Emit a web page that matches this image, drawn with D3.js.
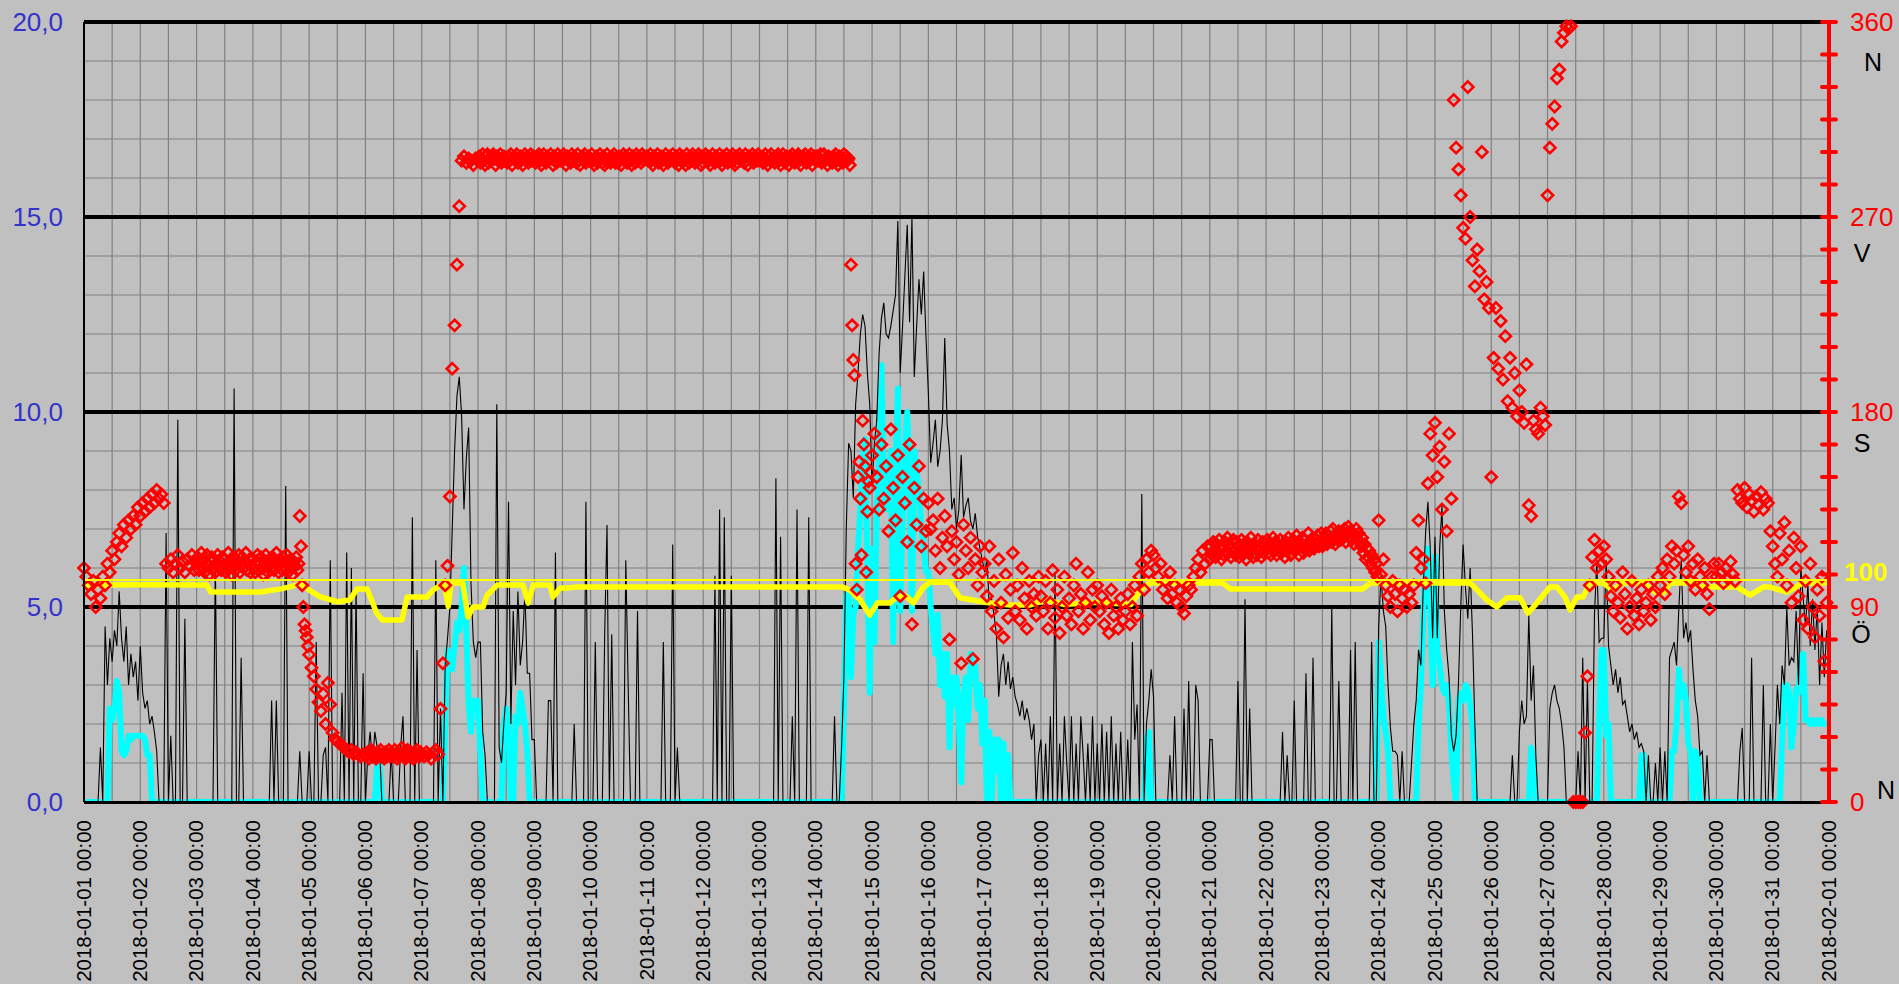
<!DOCTYPE html>
<html>
<head>
<meta charset="utf-8">
<script src="https://cdn.jsdelivr.net/npm/d3@7"></script>
<style>
body { margin: 0; background: #c0c0c0; }
svg { display: block; font-family: "Liberation Sans", Arial, sans-serif; }
</style>
</head>
<body>
<script>
// one string per day (2018-01-01 .. 2018-01-31), values evenly spaced over the day
// (24 values = hourly, 48 = half-hourly)

// gust, m/s (thin black)
const gustByDay = [
  "0 0 0 0 0 0 0 1.4 0 4.5 3.0 4.2 3.6 4.4 4.0 5.4 4.2 3.6 4.5 3.0 3.8 3.2 3.6 2.6",
  "4.0 2.8 2.4 2.6 2.0 2.2 1.8 1.3 0 0 0 6.9 0 1.7 0 0 9.8 0 0 4.7 0 0 0 0",
  "0 0 0 0 0 0 0 0 6.2 0 0 0 0 0 0 0 10.6 0 0 3.7 0 0 0 0",
  "0 0 0 0 0 0 0 0 2.6 0 2.6 0 0 0 8.1 0 0 0 0 0 1.3 0 0 0",
  "1.3 0 0 4.1 0 0 1.2 1.4 0 6.2 0 0 0 0 2.8 0 6.4 0 6.0 0 5.5 0 0 3.3",
  "0 1.2 1.8 1.0 1.8 1.4 1.4 0 0 0 0 1.3 0 0 0 1.4 2.2 0 0 0 7.3 0 3.9 0",
  "0 0 0 0 0 0 6.2 0 2.4 0 3.5 4.2 5.0 7.0 9.0 10.4 10.9 9.9 7.5 8.8 9.6 5.6 4.1 3.7",
  "4.1 4.1 1.8 1.2 0 0 0 0 10.2 1.4 1.0 2.0 2.8 7.7 2.0 4.9 3.0 5.4 3.5 4.1 5.4 3.3 3.3 1.6",
  "1.6 0 0 0 0 0 2.6 2.6 0 6.4 0 0 0 0 0 0 0 2.0 0 0 0 0 7.7 0",
  "0 0 4.1 0 0 0 4.3 7.1 0 4.3 0 0 0 0 0 6.2 3.0 0 0 0 4.9 0 0 0",
  "0 0 0 0 0 0 0 4.1 0 0 0 6.6 0 1.4 0 0 0 0 0 0 0 0 0 0",
  "0 0 0 0 0 5.8 0 7.5 0 7.3 0 0 5.8 0 0 0 0 0 0 0 0 0 0 0",
  "0 0 0 0 0 0 0 8.3 0 6.8 0 0 0 0 2.2 0 7.5 0 0 0 0 7.3 0 0",
  "0 0 0 0 0 0 0 0 2.2 0 0 1.4 3.2 7.0 9.2 9.0 7.8 10.2 11.0 12.0 12.5 12.2 11.0 10.2",
  "8.1 9.2 9.8 11.5 12.4 12.8 12.0 11.9 12.2 12.6 13.0 14.9 11.0 12.2 13.5 14.8 12.3 15.0 10.9 12.2 13.4 12.5 13.6 11.9",
  "10.5 8.7 9.2 9.8 8.6 9.0 9.8 11.9 9.7 9.0 7.5 7.8 7.0 7.5 8.9 7.3 7.6 7.8 7.2 7.0 7.4 6.8 6.5 6.2",
  "5.9 6.2 5.0 5.2 4.8 4.3 2.7 3.5 3.8 3.0 3.6 2.9 3.2 2.7 2.5 2.2 2.6 2.1 2.4 2.1 1.6 2.0 0 1.2",
  "1.6 0 1.5 0 2.2 0 5.9 0 1.5 0 2.2 1.0 0 2.2 0 1.5 0 2.2 1.2 0 1.5 0 2.2 0",
  "1.5 0 2.0 0 1.8 0 2.2 0 1.5 0 1.8 0 0 1.6 0 4.1 1.6 2.5 0 7.9 0 2.0 2.6 3.4",
  "2.7 0 0 0 0 0 0 1.2 0 2.2 0 0 0 2.4 0 3.1 0 0 3.0 2.6 0 0 0 0",
  "1.6 1.6 0 0 0 0 0 0 0 0 0 0 3.1 0 0 5.2 0 2.4 0 0 0 0 0 0",
  "0 0 0 0 0 0 0 1.8 0 1.2 0 0 2.6 0 0 0 0 3.3 0 0 3.7 0 0 0",
  "0 0 0 0 5.0 0 0 3.1 0 0 0 0 3.9 0 4.1 0 0 0 0 0 0 4.1 0 0",
  "4.5 5.8 4.9 4.5 3.0 1.9 1.3 1.3 1.2 0 1.3 0 0 0 1.0 2.0 2.6 3.9 3.5 5.5 6.9 7.7 6.5 4.2",
  "6.8 4.2 6.5 7.6 4.9 3.9 3.2 1.7 1.3 1.7 3.0 5.0 6.6 5.5 4.7 6.0 4.3 2.0 0 0 0 0 0 0",
  "0 0 0 0 0 0 0 0 0 1.2 0 0 1.8 2.6 2.0 2.2 4.8 2.6 3.5 1.2 0 0 0 0",
  "0 2.4 2.8 3.0 2.6 2.4 2.0 1.4 0 0 0 0 0 1.3 0 3.7 0 3.1 0 0 4.8 6.2 4.1 4.2",
  "4.2 6.2 4.0 3.5 3.0 3.4 2.8 3.2 2.5 2.6 2.2 1.8 2.0 1.6 1.8 1.4 1.5 1.3 0 1.2 0 0 1.0 0",
  "1.4 0 1.3 0 3.7 3.9 4.1 3.5 5.0 6.2 4.2 4.6 4.1 4.4 3.4 2.6 2.2 1.2 1.3 0 1.2 0 0 0",
  "0 0 0 0 0 0 0 0 0 0 1.3 1.9 0 0 0 3.7 0 0 0 0 3.0 0 0 2.0",
  "0 1.4 3.0 2.0 3.5 3.0 5.0 3.5 3.7 3.6 4.9 3.0 6.0 5.2 4.5 5.6 4.0 5.2 3.9 5.0 3.0 4.6 3.2 4.4"
]

// mean wind, m/s (thick cyan)
const meanByDay = [
  "0 0 0 0 0 0 0 0 0 0 0 2.4 2.1 2.4 3.1 2.8 1.3 1.2 1.3 1.7 1.6 1.7 1.7 1.7",
  "1.7 1.7 1.6 1.2 1.2 0 0 0 0 0 0 0 0 0 0 0 0 0 0 0 0 0 0 0",
  "0 0 0 0 0 0 0 0 0 0 0 0 0 0 0 0 0 0 0 0 0 0 0 0",
  "0 0 0 0 0 0 0 0 0 0 0 0 0 0 0 0 0 0 0 0 0 0 0 0",
  "0 0 0 0 0 0 0 0 0 0 0 0 0 0 0 0 0 0 0 0 0 0 0 0",
  "0 0 0 0 0 1.0 1.0 0 0 0 0 0 0 0 0 0 0 0 0 0 0 0 0 0",
  "0 0 0 0 0 0 0 0 0 0 2.0 3.9 3.6 3.4 4.0 4.6 4.4 5.0 6.0 4.4 2.5 1.8 2.6 2.4",
  "2.6 1.3 0 0 0 0 0 0 0 0 0 2.0 2.4 2.0 0 0 2.2 2.0 2.8 2.4 2.0 1.3 0 0",
  "0 0 0 0 0 0 0 0 0 0 0 0 0 0 0 0 0 0 0 0 0 0 0 0",
  "0 0 0 0 0 0 0 0 0 0 0 0 0 0 0 0 0 0 0 0 0 0 0 0",
  "0 0 0 0 0 0 0 0 0 0 0 0 0 0 0 0 0 0 0 0 0 0 0 0",
  "0 0 0 0 0 0 0 0 0 0 0 0 0 0 0 0 0 0 0 0 0 0 0 0",
  "0 0 0 0 0 0 0 0 0 0 0 0 0 0 0 0 0 0 0 0 0 0 0 0",
  "0 0 0 0 0 0 0 0 0 0 0 0 2.5 5.3 5.4 3.2 4.8 5.0 6.5 7.5 8.8 9.3 6.0 2.8",
  "6.5 4.1 7.5 9.0 11.2 8.0 7.5 8.4 9.0 4.1 8.5 10.6 4.9 7.2 9.0 10.0 8.0 4.9 9.0 8.5 8.0 7.0 6.5 5.9",
  "5.9 5.0 4.4 3.8 4.8 3.0 3.8 2.7 3.8 1.4 3.2 2.5 3.2 2.1 0.5 2.8 3.2 2.1 3.8 3.2 3.5 2.4 3.0 1.5",
  "2.6 0 1.8 0 1.6 0.8 1.6 0 1.5 0 1.2 0 0 0 0 0 0 0 0 0 0 0 0 0",
  "0 0 0 0 0 0 0 0 0 0 0 0 0 0 0 0 0 0 0 0 0 0 0 0",
  "0 0 0 0 0 0 0 0 0 0 0 0 0 0 0 0 0 0 0 0 0 1.6 1.8 0",
  "0 0 0 0 0 0 0 0 0 0 0 0 0 0 0 0 0 0 0 0 0 0 0 0",
  "0 0 0 0 0 0 0 0 0 0 0 0 0 0 0 0 0 0 0 0 0 0 0 0",
  "0 0 0 0 0 0 0 0 0 0 0 0 0 0 0 0 0 0 0 0 0 0 0 0",
  "0 0 0 0 0 0 0 0 0 0 0 0 0 0 0 0 0 0 0 0 0 0 0 0",
  "4.1 3.2 2.2 1.8 1.3 0 0 0 0 0 0 0 0 0 0 0 0 2.0 3.0 4.8 6.0 6.5 5.0 3.0",
  "6.3 3.9 3.5 3.0 2.8 3.0 2.5 1.3 0.5 0 2.6 2.8 2.6 3.0 2.9 2.5 2.0 0 0 0 0 0 0 0",
  "0 0 0 0 0 0 0 0 0 0 0 0 0 0 0 0 0 1.4 1.0 0 0 0 0 0",
  "0 0 0 0 0 0 0 0 0 0 0 0 0 0 0 0 0 0 0 0 0 0 2.0 3.9",
  "3.9 1.7 2.0 0 0 0 0 0 0 0 0 0 0 0 0 0 1.2 1.2 0 0 0 0 0 0",
  "0 0 0 0 0 1.3 1.3 2.0 3.4 2.7 3.0 2.6 1.5 1.3 0 1.3 1.2 0 0 0 0 0 0 0",
  "0 0 0 0 0 0 0 0 0 0 0 0 0 0 0 0 0 0 0 0 0 0 0 0",
  "0 0 0 0 1.5 3.0 3.0 2.8 1.4 1.9 2.9 2.8 3.7 3.8 2.1 2.1 2.0 2.1 2.0 2.1 2.0 2.1 2.0 2.0"
]

// wind direction, degrees (red diamonds)
const dirByDay = [
  "108 104 100 96 102 90 98 94 104 100 110 106 116 112 120 124 118 128 122 130 126 132 128 136",
  "132 138 134 140 136 142 138 144 140 142 138 110 108 112 106 110 114 108 111 106 112 109 114 107",
  "110 113 107 111 115 108 112 106 110 114 109 105 111 113 108 112 106 110 114 108 111 107 113 109 112 106 110 115 108 111 105 113 109 107 112 110 114 106 109 113 108 111 115 107 110 112 106 109",
  "112 108 106 111 114 107 110 113 108 105 111 114 109 106 112 110 108 113 107 110 115 109 106 112 110 107 113 108 111 114 106 110 112 108 105 111 109 113 107 110 132 118 100 90 82 79 76 72",
  "68 62 58 52 46 42 50 36 55 45 32 29 28 27 26 25 24 23 24 22 23 22 21 22",
  "22 21 23 20 22 24 21 23 22 20 21 23 22 24 21 22 20 23 21 22 24 21 23 22 21 24 22 20 23 21 22 25 23 21 20 22 24 22 21 23 22 20 23 21 24 22 21 23",
  "22 21 23 22 20 23 24 22 43 64 100 109 141 200 220 248 275 296 298 295 297 296 294 297",
  "296 298 295 297 299 296 294 298 299 295 297 296 298 299 297 294 298 296 297 299 295 297 298 296 297 295 298 296 299 294 297 298 296 299 295 297 298 296 294 297 299 296 298 295 297 299 296 298",
  "297 295 298 296 299 296 294 297 299 296 295 298 296 297 299 297 294 298 296 295 299 297 296 298 296 299 297 294 298 296 297 295 299 296 298 297 295 299 296 294 297 298 296 299 295 297 298 296",
  "296 299 296 294 297 298 295 296 299 297 295 298 294 296 299 296 297 295 298 296 299 295 297 295 298 296 294 297 299 296 298 295 297 299 296 294 298 297 295 299 296 298 297 295 299 296 298 297",
  "298 296 297 299 296 294 298 296 297 299 295 296 298 296 294 297 299 296 295 298 296 297 299 296 295 298 297 294 299 296 298 297 296 294 299 297 295 298 296 299 297 295 298 296 299 297 294 298",
  "295 297 299 296 298 296 294 297 299 296 295 298 297 296 299 296 294 298 296 297 299 295 296 298 297 299 296 294 298 295 297 299 296 298 297 295 299 296 294 298 297 296 299 295 298 297 296 299",
  "296 298 296 295 297 299 296 294 298 296 299 296 297 295 298 296 299 296 294 297 299 296 295 298 297 294 298 296 299 297 295 296 298 299 296 294 297 298 296 299 295 297 298 296 299 294 297 298",
  "296 298 296 297 299 295 296 299 296 297 294 298 296 297 295 298 297 299 296 294 298 296 297 295 299 296 298 296 297 294 248 220 204 197 110 98 150 157 140 114 176 165 155 106 134 148 145 152",
  "160 170 150 135 165 140 155 125 172 145 130 160 95 150 138 120 165 82 145 128 155 118 140 125",
  "138 126 130 116 140 108 122 132 118 75 125 112 120 105 64 128 116 108 122 66 112 100 118 106",
  "110 95 118 88 102 80 112 92 76 105 85 98 115 88 100 84 108 94 80 102 90 96 86 104",
  "95 88 102 80 92 107 85 98 78 90 104 86 94 82 100 110 88 96 80 92 106 84 98 90",
  "100 88 95 82 92 78 98 86 90 80 94 84 88 96 82 90 100 86 104 110 98 112 106 116",
  "114 108 104 110 98 102 94 106 96 100 92 98 90 87 95 100 98 104 108 112 106 116 110 118",
  "112 118 114 120 116 113 119 115 121 117 112 118 114 120 116 122 115 119 113 117 121 116 114 120 118 113 116 121 114 119 117 112 120 115 118 122 116 113 119 117 114 121 116 118 113 120 115 119",
  "117 121 115 119 114 118 122 116 120 114 118 116 121 115 119 117 113 120 116 122 118 114 119 121 116 119 123 117 114 120 118 122 115 121 117 119 124 116 120 118 122 117 121 119 123 118 120 124",
  "118 122 120 124 119 123 121 125 120 126 122 119 124 121 125 123 121 125 122 126 120 124 127 122 125 121 124 119 123 126 121 124 120 118 122 115 119 112 117 113 116 110 114 108 112 106 110 104",
  "130 105 112 100 95 90 102 96 88 100 94 98 90 96 92 100 115 130 108 112 101 147 170 160",
  "175 150 164 135 157 125 170 140 324 302 292 280 265 260 330 270 250 238 255 245 300 232 240 228",
  "150 205 228 200 222 195 215 185 205 182 198 178 190 180 175 202 137 132 176 172 170 182 178 174",
  "280 302 313 321 334 338 351 355 358 357 358 0 0 0 0 0 32 58 100 113 121 108 116 110",
  "118 112 104 95 88 100 92 85 106 96 80 90 102 86 94 82 98 88 92 100 84 96 90 104",
  "100 108 96 112 104 118 110 116 141 138 114 106 118 102 110 98 112 104 100 108 96 89 104 110",
  "104 110 106 101 108 103 111 105 102 144 140 138 145 136 142 139 134 141 137 143 135 140 138 125",
  "118 110 104 124 112 129 100 116 92 122 108 95 118 84 102 80 110 90 76 98 86 104 65 92"
]

// relative humidity, % (thick yellow), read at these day offsets
const humDay = [0, 1.0, 2.18, 2.25, 3.13, 3.5, 3.84, 4.19, 4.5, 4.72, 4.85, 5.03, 5.2, 5.3, 5.65, 5.74, 6.09, 6.2, 6.4, 6.47, 6.52, 6.73, 6.82, 6.91, 7.09, 7.16, 7.34, 7.8, 7.89, 7.98, 8.28, 8.33, 8.46, 8.58, 8.76, 13.48, 13.6, 13.79, 13.96, 14.09, 14.32, 14.44, 14.62, 14.73, 14.9, 15.03, 15.38, 15.56, 16.0, 16.45, 16.8, 17.1, 17.4, 18.0, 18.6, 18.8, 18.94, 20.23, 20.36, 22.72, 22.85, 24.62, 24.7, 24.92, 25.1, 25.28, 25.51, 25.65, 25.81, 26.04, 26.17, 26.31, 26.4, 26.52, 26.63, 26.75, 26.99, 27.16, 27.34, 27.7, 27.94, 28.05, 28.18, 28.53, 28.76, 29.37, 29.6, 29.83, 29.95, 30.25, 30.53, 31]
const humPct = [97.7, 97.9, 97.7, 94.6, 94.6, 96, 98, 92.5, 90.2, 91, 96, 96, 85, 82, 82, 92.3, 92.3, 95.5, 98.6, 88, 98.6, 98.6, 83.3, 87.8, 87.8, 93.2, 97.7, 97.7, 89.6, 97.7, 97.7, 92.3, 96.4, 96.4, 96.8, 96.8, 95.5, 91, 84.2, 89.6, 89.6, 92.5, 92.5, 89.6, 96.4, 99, 99, 92, 90, 88.7, 88.7, 91, 89, 90, 89, 96.4, 98.6, 98.6, 96, 96, 98.6, 98.6, 96.8, 91, 87.8, 92, 92, 85.1, 89.6, 96.8, 96.8, 92.3, 86.5, 92.3, 92.3, 98.6, 98.6, 95.5, 98.6, 98.6, 94.1, 94.1, 98.6, 98.6, 96.8, 96.8, 93.2, 96.8, 96.8, 94.6, 98.6, 98.6]

const speedTicks = [0, 5, 10, 15, 20]
const dirTicks = [0, 90, 180, 270, 360]
const compass = ["N", "Ö", "S", "V", "N"]   // for dirTicks
const humRef = 100

// ---- setup

const start = Date.UTC(2018, 0, 1)
const end = Date.UTC(2018, 1, 1)
const dayMs = 864e5

function perDay (days) {
    return days.flatMap((s, d) => {
        const vals = s.trim().split(/\s+/)
        return vals.map((v, i) => ({ t: new Date(start + (d + i / vals.length) * dayMs), v: +v }))
    })
}

const gust = perDay(gustByDay)
const mean = perDay(meanByDay)
const dir = perDay(dirByDay)
const hum = humDay.map((d, i) => ({ t: new Date(start + d * dayMs), v: humPct[i] }))

const width = 1899
const height = 984
const plotL = 84, plotR = 1829, plotT = 22, plotB = 802

const x = d3.scaleUtc().domain([start, end]).range([plotL, plotR])
const ySpeed = d3.scaleLinear().domain([0, 20]).range([plotB, plotT])
const yDir = d3.scaleLinear().domain([0, 360]).range([plotB, plotT])
const yHum = d3.scaleLinear().domain([0, 100]).range([plotB, 580])

const font = "'Liberation Sans', Arial, sans-serif"

const svg = d3.select("body").append("svg")
    .attr("width", width)
    .attr("height", height)

svg.append("rect").attr("width", width).attr("height", height).attr("fill", "#c0c0c0")

svg.append("defs").append("clipPath").attr("id", "plot")
    .append("rect").attr("x", plotL).attr("y", 0).attr("width", plotR - plotL).attr("height", plotB - 1)

// grid

svg.append("g")
    .selectAll("line")
    .data(d3.utcHour.every(12).range(new Date(start + 1), new Date(end)))
    .join("line")
    .attr("x1", d => x(d)).attr("x2", d => x(d))
    .attr("y1", plotT).attr("y2", plotB)
    .attr("stroke", "#808080").attr("stroke-width", 1.2)

svg.append("g")
    .selectAll("line")
    .data(ySpeed.ticks(20).filter(v => v % 5 !== 0))
    .join("line")
    .attr("x1", plotL).attr("x2", plotR)
    .attr("y1", d => ySpeed(d)).attr("y2", d => ySpeed(d))
    .attr("stroke", "#808080").attr("stroke-width", 1.2)

svg.append("g")
    .selectAll("line")
    .data(speedTicks.filter(v => v > 0))
    .join("line")
    .attr("x1", plotL).attr("x2", plotR)
    .attr("y1", d => ySpeed(d)).attr("y2", d => ySpeed(d))
    .attr("stroke", "#000").attr("stroke-width", 4)

// series

const series = svg.append("g").attr("clip-path", "url(#plot)")

series.append("path")
    .datum(mean)
    .attr("d", d3.line().x(d => x(d.t)).y(d => ySpeed(d.v)))
    .attr("fill", "none").attr("stroke", "#00ffff").attr("stroke-width", 6).attr("stroke-linejoin", "round")

series.append("path")
    .datum(gust)
    .attr("d", d3.line().x(d => x(d.t)).y(d => ySpeed(d.v)))
    .attr("fill", "none").attr("stroke", "#000").attr("stroke-width", 1.1)

series.append("path")
    .datum(hum)
    .attr("d", d3.line().x(d => x(d.t)).y(d => yHum(d.v)))
    .attr("fill", "none").attr("stroke", "#ffff00").attr("stroke-width", 5.5).attr("stroke-linejoin", "round")

svg.append("g")
    .selectAll("path")
    .data(dir)
    .join("path")
    .attr("d", "M0,-5.6L5.6,0L0,5.6L-5.6,0Z")
    .attr("transform", d => `translate(${x(d.t)},${yDir(d.v)})`)
    .attr("fill", "none").attr("stroke", "#ff0000").attr("stroke-width", 2.6)

svg.append("line")
    .attr("x1", plotL).attr("x2", plotR)
    .attr("y1", yHum(humRef)).attr("y2", yHum(humRef))
    .attr("stroke", "#ffff00").attr("stroke-width", 2)

// frame

svg.append("line")
    .attr("x1", plotL).attr("x2", plotR).attr("y1", plotB + 0.5).attr("y2", plotB + 0.5)
    .attr("stroke", "#000").attr("stroke-width", 3)

svg.append("line")
    .attr("x1", plotL).attr("x2", plotL).attr("y1", plotT).attr("y2", plotB)
    .attr("stroke", "#000").attr("stroke-width", 2)

svg.append("line")
    .attr("x1", plotR).attr("x2", plotR).attr("y1", plotT).attr("y2", plotB)
    .attr("stroke", "#ff0000").attr("stroke-width", 4).attr("stroke-linecap", "round")

svg.append("g")
    .selectAll("line")
    .data(d3.range(0, 361, 15))
    .join("line")
    .attr("x1", plotR - 7).attr("x2", plotR + 7)
    .attr("y1", d => yDir(d)).attr("y2", d => yDir(d))
    .attr("stroke", "#ff0000").attr("stroke-width", 4).attr("stroke-linecap", "round")

// axes

svg.append("g")
    .attr("transform", `translate(${plotL},0)`)
    .call(d3.axisLeft(ySpeed).tickValues(speedTicks).tickSize(0).tickPadding(21)
        .tickFormat(d => d.toFixed(1).replace(".", ",")))
    .call(g => g.select(".domain").remove())
    .attr("font-size", 26).attr("font-family", font)
    .call(g => g.selectAll("text").attr("fill", "#3333cc"))

svg.append("g")
    .attr("transform", `translate(${plotR},0)`)
    .call(d3.axisRight(yDir).tickValues(dirTicks).tickSize(0).tickPadding(21))
    .call(g => g.select(".domain").remove())
    .attr("font-size", 26).attr("font-family", font)
    .call(g => g.selectAll("text").attr("fill", "#ff0000"))

const compassShift = [-12, 27, 31, 36, 40]
const compassX = [1886, 1861, 1862, 1862, 1873]
svg.append("g")
    .selectAll("text")
    .data(compass)
    .join("text")
    .attr("x", (d, i) => compassX[i])
    .attr("y", (d, i) => yDir(dirTicks[i]) + compassShift[i])
    .attr("dy", "0.35em")
    .attr("text-anchor", "middle")
    .attr("font-family", font).attr("font-size", 25)
    .attr("fill", "#000")
    .text(d => d)

svg.append("text")
    .attr("x", plotR + 15)
    .attr("y", yHum(humRef) - 8)
    .attr("dy", "0.35em")
    .attr("font-family", font).attr("font-size", 26).attr("font-weight", "bold")
    .attr("fill", "#ffff00")
    .text(humRef)

svg.append("g")
    .attr("transform", `translate(0,${plotB})`)
    .call(d3.axisBottom(x).ticks(d3.utcDay.every(1)).tickSize(0)
        .tickFormat(d3.utcFormat("%Y-%m-%d %H:%M")))
    .call(g => g.select(".domain").remove())
    .attr("font-size", 20.5).attr("font-family", font)
    .call(g => g.selectAll("text")
        .attr("fill", "#000")
        .attr("x", 0).attr("y", 0).attr("dy", "0.35em")
        .attr("text-anchor", "end")
        .attr("transform", "translate(-1,18) rotate(-90)"))
</script>
</body>
</html>
